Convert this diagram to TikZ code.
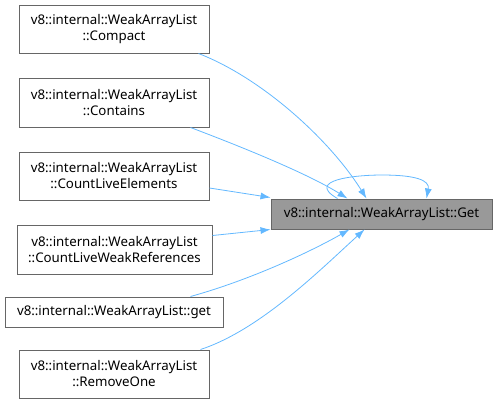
\documentclass[tikz,border=0pt]{standalone}
\usepackage{fontspec}
\setmainfont{Noto Sans}
\usetikzlibrary{calc, positioning, arrows.meta}

\tikzset{
  fnbox/.style={draw=black!60, line width=1pt, fill=white, inner sep=0pt, align=center,
    font=\fontsize{13.3}{16}\selectfont, minimum width=190pt, minimum height=48pt},
  curbox/.style={fnbox, fill=black!40, minimum width=221pt, minimum height=30pt},
  callarrow/.style={draw={rgb,255:red,99;green,184;blue,255}, line width=0.8pt,
    -{Latex[length=10pt,width=7pt]}}
}

\begin{document}
\begin{tikzpicture}[x=1pt, y=-1pt]
\useasboundingbox (0,0) rectangle (497,405);
% Draw callers
\node[fnbox] (cmp) at (114,29) {v8::internal::WeakArrayList\\::Compact};
\node[fnbox, minimum height=49pt] (cnt) at (114,102.5) {v8::internal::WeakArrayList\\::Contains};
\node[fnbox] (cle) at (114,176) {v8::internal::WeakArrayList\\::CountLiveElements};
\node[fnbox, minimum width=195pt, minimum height=49pt] (clw) at (114.5,249.5) {v8::internal::WeakArrayList\\::CountLiveWeakReferences};
\node[fnbox, minimum width=218pt, minimum height=30pt] (lget) at (114,312) {v8::internal::WeakArrayList::get};
\node[fnbox] (rmo) at (114,374) {v8::internal::WeakArrayList\\::RemoveOne};
% Draw current function
\node[curbox] (get) at (381.5,214) {v8::internal::WeakArrayList::Get};
% Draw calls
\draw[callarrow] ($(cmp.south east)+(-11,0)$) .. controls (262,78) and (330,140) .. ($(get.north west)+(96,0)$);
\draw[callarrow] ($(cnt.south east)+(-19,0)$) .. controls (250,150) and (310,175) .. ($(get.north west)+(77,0)$);
\draw[callarrow] ($(cle.east)+(0,12)$) -- ($(get.north west)+(0,-1)$);
\draw[callarrow] ($(clw.east)+(0,-14)$) -- (get.south west);
\draw[callarrow] ($(lget.north east)+(-33,0)$) .. controls (250,280) and (310,252) .. ($(get.south west)+(79,0)$);
\draw[callarrow] ($(rmo.north east)+(-9,0)$) .. controls (260,330) and (320,270) .. ($(get.south west)+(94,0)$);
% Draw recursive call
\draw[callarrow] ($(get.north west)+(67,0)$) .. controls (305,180) and (355,175) .. (382,175)
  .. controls (415,175) and (430,180) .. ($(get.north west)+(156,0)$);
\end{tikzpicture}
\end{document}
